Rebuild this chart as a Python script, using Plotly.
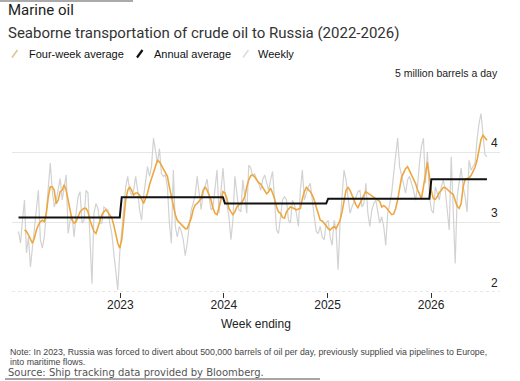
import pandas as pd
import plotly.graph_objects as go

# ---------------- data ----------------
start_date = "2022-01-07"
weekly = [
    2.87, 2.70, 3.03, 3.32, 2.56, 2.79, 2.36, 2.65, 2.94, 3.22,
    3.46, 2.75, 2.63, 2.79, 3.13, 3.51, 3.85, 3.46, 3.22, 3.32,
    3.46, 3.63, 3.32, 3.51, 3.68, 2.84, 3.03, 3.08, 2.79, 3.13,
    3.37, 3.44, 2.99, 3.03, 3.46, 3.42, 2.65, 2.12, 3.13, 3.27,
    3.20, 2.99, 2.99, 3.22, 3.20, 3.18, 2.99, 2.84, 2.56, 2.27,
    2.03, 2.56, 2.89, 3.18, 3.51, 3.66, 3.46, 3.39, 3.46, 3.66,
    3.46, 3.18, 3.03, 3.37, 3.56, 3.80, 3.66, 3.80, 4.21, 4.00,
    3.85, 4.06, 3.70, 3.66, 3.68, 3.51, 2.99, 2.70, 3.75, 2.94,
    2.79, 2.94, 2.87, 2.75, 2.52, 2.70, 2.99, 3.18, 3.27, 3.39,
    3.66, 3.42, 3.18, 3.42, 3.51, 3.62, 3.37, 3.18, 3.22, 3.46,
    3.75, 3.13, 3.46, 3.78, 3.42, 3.22, 3.08, 2.75, 3.03, 3.66,
    3.37, 3.18, 3.15, 3.61, 3.37, 3.13, 3.82, 3.78, 3.66, 3.70,
    3.61, 3.56, 3.46, 3.61, 3.68, 3.56, 3.46, 3.61, 3.73, 3.32,
    2.89, 2.84, 3.13, 3.32, 3.37, 3.32, 3.03, 2.99, 3.32, 3.25,
    3.13, 2.94, 3.46, 3.75, 3.32, 3.42, 3.51, 3.56, 3.27, 3.08,
    2.87, 2.84, 2.94, 2.79, 2.75, 2.99, 3.03, 2.79, 2.67, 3.03,
    2.89, 2.32, 2.99, 3.37, 3.75, 3.61, 3.32, 3.13, 3.22, 3.30,
    3.37, 3.44, 3.46, 3.22, 3.27, 3.56, 3.13, 2.94, 3.18, 3.27,
    3.32, 3.13, 2.99, 3.08, 2.94, 2.67, 3.13, 3.27, 3.42, 3.70,
    3.99, 4.21, 3.80, 3.66, 3.56, 3.42, 3.61, 3.66, 3.56, 3.46,
    3.32, 3.51, 3.85, 4.09, 4.21, 3.56, 4.01, 3.37, 3.18, 3.13,
    3.51, 3.42, 3.32, 3.51, 3.61, 3.46, 3.13, 2.89, 3.94, 3.03,
    2.41, 3.37, 3.61, 3.78, 3.51, 3.37, 3.15, 3.89, 3.75, 3.80,
    3.85, 4.18, 4.42, 4.56, 4.28, 3.97, 3.94,
]
four_week = [
    None, None, None, 2.89, 2.87, 2.82, 2.75, 2.70, 2.77, 2.89,
    2.96, 3.01, 3.03, 3.01, 3.13, 3.37, 3.51, 3.51, 3.46, 3.27,
    3.32, 3.44, 3.46, 3.54, 3.46, 3.32, 3.15, 3.03, 2.99, 3.01,
    3.08, 3.15, 3.18, 3.20, 3.20, 3.15, 3.03, 2.94, 2.87, 2.84,
    2.94, 3.03, 3.11, 3.15, 3.18, 3.15, 3.11, 3.06, 2.96, 2.84,
    2.70, 2.63, 2.75, 3.03, 3.32, 3.46, 3.51, 3.46, 3.39, 3.42,
    3.42, 3.39, 3.34, 3.27, 3.34, 3.42, 3.54, 3.63, 3.70, 3.80,
    3.89, 3.87, 3.82, 3.78, 3.73, 3.66, 3.51, 3.37, 3.20, 3.11,
    3.03, 3.00, 2.98, 2.94, 2.91, 2.91, 2.99, 3.06, 3.18, 3.25,
    3.27, 3.30, 3.34, 3.46, 3.51, 3.46, 3.39, 3.32, 3.20, 3.13,
    3.11, 3.20, 3.32, 3.44, 3.42, 3.34, 3.20, 3.15, 3.11, 3.15,
    3.22, 3.25, 3.27, 3.31, 3.37, 3.51, 3.61, 3.67, 3.68, 3.65,
    3.61, 3.57, 3.55, 3.50, 3.45, 3.41, 3.44, 3.49, 3.42, 3.34,
    3.22, 3.15, 3.13, 3.07, 3.06, 3.15, 3.19, 3.22, 3.21, 3.20,
    3.18, 3.19, 3.20, 3.34, 3.44, 3.50, 3.47, 3.44, 3.39, 3.32,
    3.22, 3.11, 3.03, 3.02, 2.99, 2.95, 2.91, 2.89, 2.92, 2.94,
    2.91, 2.96, 3.03, 3.15, 3.32, 3.46, 3.50, 3.46, 3.39, 3.31,
    3.25, 3.21, 3.26, 3.33, 3.39, 3.44, 3.42, 3.40, 3.39, 3.37,
    3.34, 3.32, 3.30, 3.22, 3.24, 3.22, 3.18, 3.14, 3.11, 3.12,
    3.20, 3.32, 3.51, 3.65, 3.71, 3.77, 3.80, 3.74, 3.67, 3.63,
    3.56, 3.47, 3.39, 3.34, 3.51, 3.66, 3.86, 3.66, 3.45, 3.34,
    3.33, 3.37, 3.43, 3.46, 3.50, 3.50, 3.47, 3.44, 3.42, 3.40,
    3.32, 3.23, 3.20, 3.27, 3.51, 3.62, 3.63, 3.64, 3.67, 3.73,
    3.79, 3.89, 4.04, 4.19, 4.25, 4.22, 4.18,
]
years = [2022, 2023, 2024, 2025, 2026]
annual = [3.07, 3.36, 3.27, 3.34, 3.62]

year_ticks = ["2023-01-01", "2024-01-01", "2025-01-01", "2026-01-01"]
year_labels = ["2023", "2024", "2025", "2026"]
y_ticks = [2, 3, 4]
y_top = 5

title = "Marine oil"
subtitle = "Seaborne transportation of crude oil to Russia (2022-2026)"
unit_label = "5 million barrels a day"
x_title = "Week ending"
note1 = "Note: In 2023, Russia was forced to divert about 500,000 barrels of oil per day, previously supplied via pipelines to Europe,"
note2 = "into maritime flows."
source = "Source: Ship tracking data provided by Bloomberg."

# ---------------- derived tables ----------------
dates = pd.date_range(start_date, periods=len(weekly), freq="7D")
ann_x, ann_y = [], []
for yr, val in zip(years, annual):
    d = [t for t in dates if t.year == yr]
    ann_x += [d[0], d[-1]]
    ann_y += [val, val]

# ---------------- layout helpers ----------------
W, H = 520, 381
L, R, T, B = 12, 500, 83, 292


def px(x):
    return (x - L) / (R - L)


def py(y):
    return (B - y) / (B - T)


C_ORANGE = "#EEA73F"
C_GRAY = "#D2D2D2"
C_BLACK = "#111111"
FONT = "Liberation Sans, Arial, sans-serif"

fig = go.Figure()
fig.add_trace(go.Scatter(x=dates, y=weekly, mode="lines", name="Weekly",
                         line=dict(color=C_GRAY, width=1.2), showlegend=False))
fig.add_trace(go.Scatter(x=dates, y=four_week, mode="lines", name="Four-week average",
                         line=dict(color=C_ORANGE, width=1.6), showlegend=False))
fig.add_trace(go.Scatter(x=ann_x, y=ann_y, mode="lines", name="Annual average",
                         line=dict(color=C_BLACK, width=2), showlegend=False))

shapes = []
# dotted bottom baseline at y=2
shapes.append(dict(type="line", xref="paper", yref="y", x0=0, x1=1, y0=y_ticks[0], y1=y_ticks[0],
                   line=dict(color="#cfcfcf", width=1, dash="dot"), layer="below"))
# decorative rules
shapes.append(dict(type="line", xref="paper", yref="paper", x0=px(0), x1=px(133), y0=py(1), y1=py(1),
                   line=dict(color="#aaaaaa", width=2)))
shapes.append(dict(type="line", xref="paper", yref="paper", x0=px(5), x1=px(320), y0=py(379), y1=py(379),
                   line=dict(color="#888888", width=1.5)))
# legend icons
legend_items = [("Four-week average", "#D9C68A", 12, 27, 1.6),
                ("Annual average", C_BLACK, 137, 152, 2.2),
                ("Weekly", "#DDDDDD", 243, 256, 1.6)]
annotations = []
for name, col, ix, tx, lw in legend_items:
    shapes.append(dict(type="line", xref="paper", yref="paper", x0=px(ix), y0=py(57.5),
                       x1=px(ix + 5.5), y1=py(50), line=dict(color=col, width=lw)))
    annotations.append(dict(text=name, xref="paper", yref="paper", x=px(tx), y=py(54),
                            xanchor="left", yanchor="middle", showarrow=False,
                            font=dict(size=11, color="#111", family=FONT)))

annotations += [
    dict(text=title, xref="paper", yref="paper", x=px(6), y=py(10.5), xanchor="left",
         yanchor="middle", showarrow=False, font=dict(size=15, color="#222", family="Roboto")),
    dict(text=subtitle, xref="paper", yref="paper", x=px(6), y=py(33), xanchor="left",
         yanchor="middle", showarrow=False, font=dict(size=15, color="#333", family="Roboto")),
    dict(text=unit_label, xref="paper", yref="y", x=px(R), y=y_top, yshift=10, xanchor="right",
         yanchor="middle", showarrow=False, font=dict(size=10.5, color="#222", family=FONT)),
    dict(text=x_title, xref="paper", yref="paper", x=px(256), y=py(324), xanchor="center",
         yanchor="middle", showarrow=False, font=dict(size=12, color="#222", family=FONT)),
    dict(text=note1, xref="paper", yref="paper", x=px(8), y=py(352), xanchor="left",
         yanchor="middle", showarrow=False, font=dict(size=8.8, color="#444", family=FONT)),
    dict(text=note2, xref="paper", yref="paper", x=px(8), y=py(362), xanchor="left",
         yanchor="middle", showarrow=False, font=dict(size=8.8, color="#444", family=FONT)),
    dict(text=source, xref="paper", yref="paper", x=px(6), y=py(372.5), xanchor="left",
         yanchor="middle", showarrow=False, font=dict(size=10, color="#555", family="DejaVu Sans")),
]
for v in y_ticks:
    annotations.append(dict(text=str(v), xref="paper", yref="y", x=px(R), y=v, yshift=9.5,
                            xanchor="right", yanchor="middle", showarrow=False,
                            font=dict(size=12, color="#222", family=FONT)))

fig.update_layout(
    width=W, height=H,
    margin=dict(l=L, r=W - R, t=T, b=H - B, pad=0),
    paper_bgcolor="white", plot_bgcolor="white",
    showlegend=False,
    shapes=shapes, annotations=annotations,
    xaxis=dict(type="date", range=["2021-12-15", "2026-09-01"],
               tickvals=year_ticks, ticktext=year_labels,
               ticks="outside", ticklen=5, tickwidth=1, tickcolor="#333",
               ticklabelstandoff=-3,
               showgrid=False, showline=False, zeroline=False,
               tickfont=dict(size=12, color="#222", family=FONT)),
    yaxis=dict(range=[y_ticks[0], y_top], tickvals=[3, 4, 5], showticklabels=False,
               showgrid=True, gridcolor="#e6e6e6", gridwidth=1, zeroline=False,
               showline=False, ticks=""),
)

fig.write_html("out.html")
